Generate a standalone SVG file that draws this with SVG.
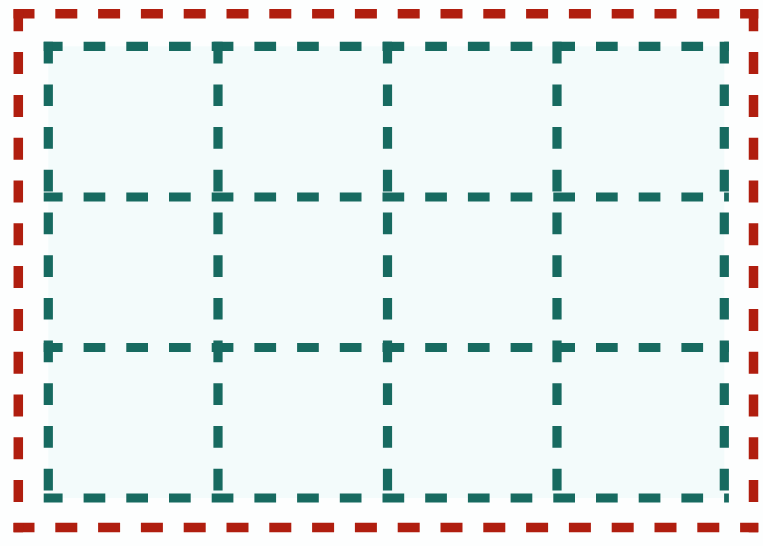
<svg xmlns="http://www.w3.org/2000/svg" width="763" height="546" viewBox="0 0 763 546">
  <style>
    .red { stroke: #b01e0f; stroke-width: 9.5; stroke-dasharray: 22 20.8; fill: none; }
    .teal { stroke: #176a60; stroke-width: 9.2; stroke-dasharray: 21.7 21; fill: none; }
    .h { stroke-dashoffset: 2.8; }
    .v { stroke-dashoffset: 0; }
  </style>
  <rect x="0" y="0" width="763" height="546" fill="#fdfefe"/>
  <g id="inner-fill">
    <rect x="48.3" y="46.3" width="676" height="451.7" fill="#f3fbfb"/>
  </g>
  <g id="outer-frame">
    <line class="red" x1="13.5" y1="13.8" x2="758.3" y2="13.8" style="stroke-dashoffset:1"/>
    <line class="red" x1="13.5" y1="527.5" x2="758.3" y2="527.5" style="stroke-dashoffset:1"/>
    <line class="red" x1="18.3" y1="9" x2="18.3" y2="532.3" style="stroke-dashoffset:-0.3"/>
    <line class="red" x1="753.5" y1="9" x2="753.5" y2="532.3" style="stroke-dashoffset:-0.3"/>
  </g>
  <g id="grid-rows">
    <line class="teal h" x1="43.7" y1="46.3" x2="728.9" y2="46.3"/>
    <line class="teal h" x1="43.7" y1="197" x2="728.9" y2="197"/>
    <line class="teal h" x1="43.7" y1="347.5" x2="728.9" y2="347.5"/>
    <line class="teal h" x1="43.7" y1="498" x2="728.9" y2="498"/>
  </g>
  <g id="grid-columns">
    <line class="teal v" x1="48.3" y1="41.7" x2="48.3" y2="502.6"/>
    <line class="teal v" x1="218" y1="41.7" x2="218" y2="502.6"/>
    <line class="teal v" x1="387.5" y1="41.7" x2="387.5" y2="502.6"/>
    <line class="teal v" x1="557" y1="41.7" x2="557" y2="502.6"/>
    <line class="teal v" x1="724.3" y1="41.7" x2="724.3" y2="502.6"/>
  </g>
</svg>
